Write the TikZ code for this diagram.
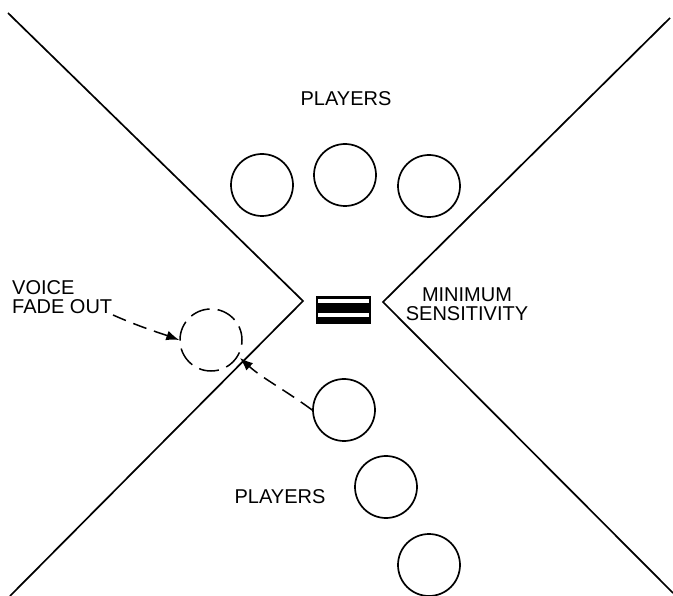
\documentclass[tikz,border=0pt]{standalone}
\usepackage{fontspec}
\setmainfont{Liberation Sans}
\usetikzlibrary{arrows.meta}
\begin{document}
\begin{tikzpicture}[x=1pt,y=-1pt,
  wall/.style={line width=1.7pt, line join=miter},
  player/.style={circle, draw, line width=1.7pt, minimum size=62pt, inner sep=0pt},
  ghost/.style={circle, draw, line width=1.5pt, minimum size=62pt, inner sep=0pt,
    dash pattern=on 20pt off 8pt, dash phase=6pt},
  caption/.style={font=\fontsize{20}{19.5}\selectfont, align=center, inner sep=0pt},
  moveto/.style={line width=1.5pt, dash pattern=on 14pt off 8pt,
    -{Latex[length=13pt,width=10pt,fill=black]}}]
  \useasboundingbox (0,0) rectangle (673,596);

  % pickup pattern boundaries
  \draw[wall] (8,13) -- (303,301) -- (10,596);
  \draw[wall] (670,18) -- (383,302) -- (673,593);

  % microphone, seen edge-on
  \node[fill=black, minimum width=55pt, minimum height=28pt, inner sep=0pt] (mic) at (343.5,310) {};
  \fill[white] (318,299.5) rectangle (369,303);
  \fill[white] (318,313.5) rectangle (369,317);

  % players on the live side
  \node[player] (p1) at (262,185) {};
  \node[player] (p2) at (345,175) {};
  \node[player] (p3) at (429,186) {};
  \node[caption] (toplab) at (346,99) {PLAYERS};

  % players on the dead side
  \node[player] (q1) at (344,410) {};
  \node[player] (q2) at (386,487) {};
  \node[player] (q3) at (429,565) {};
  \node[caption] (botlab) at (280,497) {PLAYERS};

  % player moved off axis
  \node[ghost] (fade) at (211,340) {};

  \node[caption, align=left, anchor=north west] (voice) at (12,280) {VOICE\\FADE OUT};
  \node[caption] (minsens) at (467,304) {MINIMUM\\SENSITIVITY};

  \coordinate (vend) at (113,315);
  \draw[moveto] (vend) .. controls (140,327) and (160,333) .. (fade.west);
  \draw[moveto] (q1.west) .. controls (285,390) and (262,378) .. (240,358);
\end{tikzpicture}
\end{document}
